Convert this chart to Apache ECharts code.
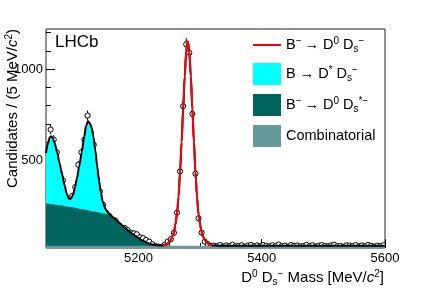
<!DOCTYPE html>
<html><head><meta charset="utf-8">
<script src="https://cdn.jsdelivr.net/npm/echarts@6/dist/echarts.min.js"></script>
<style>html,body{margin:0;padding:0;background:#fff}#c{width:427px;height:290px}</style>
</head><body><div id="c"></div>
<script>
// ---- data ----
const binLow = 5050, binWidth = 5;
const counts = [541,669,614,544,431,390,293,288,305,354,
  476,544,614,746,654,586,398,330,257,214,
  196,174,170,141,101,130,118,104,100,95,
  79,74,64,55,41,31,28,27,37,55,
  68,103,214,440,797,1136,1090,755,427,183,
  104,55,41,31,
  33,30,36,28,34,31,38,29,32,35,
  27,33,37,30,34,29,36,32,28,35,
  31,39,30,33,27,36,32,34,29,31,
  37,30,35,28,33,36,31,29,34,38,
  30,32,27,35,33,31,36,29,34,30,
  37,32,28,33,31,35];
const totalFit = [[5050,540],[5053,592],[5056,626],[5058.5,633],[5061,622],[5064,595],[5068,545],[5072,485],[5076,425],[5080,365],[5084,315],[5087,292],[5089,288],[5091,292],[5094,312],[5097,350],[5100,400],[5104,470],[5108,545],[5112,630],[5115,690],[5118,714],[5121,705],[5124,680],[5127,630],[5130,555],[5133,470],[5136,390],[5139,325],[5142,275],[5145,245],[5148,225],[5152,207],[5156,196],[5160,185],[5165,170],[5170,155],[5175,140],[5180,125],[5185,110],[5190,98],[5195,86],[5200,75],[5205,64],[5210,55],[5215,47],[5220,41],[5225,37],[5230,35],[5235,34],[5240,34],[5245,40],[5250,52],[5253,68],[5256,90],[5258,112],[5260,150],[5262.5,205],[5265,300],[5267.5,435],[5270,600],[5272.5,780],[5275,960],[5277.5,1100],[5280,1152],[5282.5,1100],[5285,960],[5287.5,780],[5290,600],[5292.5,435],[5295,300],[5297.5,205],[5300,150],[5302,112],[5304,90],[5307,68],[5310,52],[5315,40],[5320,34],[5330,33],[5400,32],[5600,32]];
const signalFit = [[5240,34],[5245,40],[5250,52],[5253,68],[5256,90],[5258,112],[5260,150],[5262.5,205],[5265,300],[5267.5,435],[5270,600],[5272.5,780],[5275,960],[5277.5,1100],[5280,1152],[5282.5,1100],[5285,960],[5287.5,780],[5290,600],[5292.5,435],[5295,300],[5297.5,205],[5300,150],[5302,112],[5304,90],[5307,68],[5310,52],[5315,40],[5320,34]];
const dStarTop = [[5050,540],[5053,592],[5056,626],[5058.5,633],[5061,622],[5064,595],[5068,545],[5072,485],[5076,425],[5080,365],[5084,315],[5087,292],[5089,288],[5091,292],[5094,312],[5097,350],[5100,400],[5104,470],[5108,545],[5112,630],[5115,690],[5118,714],[5121,705],[5124,680],[5127,630],[5130,555],[5133,470],[5136,390],[5139,325],[5142,275],[5145,245],[5148,225],[5152,207],[5156,196]];
const dsStarTop = [[5050,265],[5070,256],[5090,245],[5110,232],[5130,218],[5145,207],[5152,201],[5156,196],[5160,185],[5165,170],[5170,155],[5175,140],[5180,125],[5185,110],[5190,98],[5195,86],[5200,75],[5205,64],[5210,55],[5215,47],[5220,41],[5225,37],[5230,35],[5235,34],[5240,33],[5250,32]];
const combFit = [[5050,32],[5600,32]];
const xMajorTicks = [5200,5400,5600];
const xMinorTicks = [5100,5150,5250,5300,5350,5450,5500,5550];
const yMajorTicks = [500,1000];
const yMinorTicks = [100,200,300,400,600,700,800,900,1100,1200];

// ---- chart ----
const FF = 'Liberation Sans, Arial, Helvetica, sans-serif';
const points = counts.map((v,i)=>[binLow + binWidth*(i+0.5), v]);
const legendNames = {
  sig: '{n|B}{sup|−}{n|\u2009→ D}{sup|0}{n| D}{sub|s}{sup|−}',
  dstar: '{n|B → D}{sup|*}{n| D}{sub|s}{sup|−}',
  dsstar: '{n|B}{sup|−}{n|\u2009→ D}{sup|0}{n| D}{sub|s}{sup|*−}',
  comb: '{n|Combinatorial}'
};
function rich(fs){
  return {
    n:{fontSize:fs, fontFamily:FF, color:'#000', lineHeight:18},
    i:{fontSize:fs, fontFamily:FF, color:'#000', fontStyle:'italic', lineHeight:18},
    sup:{fontSize:Math.round(fs*0.68), fontFamily:FF, color:'#000', lineHeight:10, verticalAlign:'top'},
    sub:{fontSize:Math.round(fs*0.68), fontFamily:FF, color:'#000', lineHeight:10, verticalAlign:'bottom'}
  };
}
const xMin=5050, xMax=5600, yMin=20, yMax=1220;
function xAx(ticks, len, labels){
  return {type:'value', min:xMin, max:xMax, position:'bottom', gridIndex:0,
    axisLine:{show:false}, splitLine:{show:false},
    axisTick:{show:true, inside:true, length:len, customValues:ticks, lineStyle:{color:'#000', width:1}},
    axisLabel: labels ? {show:true, customValues:ticks, formatter:v=>String(v), fontSize:13, fontFamily:FF, color:'#000', margin:4} : {show:false}};
}
function yAx(ticks, len, labels){
  return {type:'value', min:yMin, max:yMax, position:'left', gridIndex:0,
    axisLine:{show:false}, splitLine:{show:false},
    axisTick:{show:true, inside:true, length:len, customValues:ticks, lineStyle:{color:'#000', width:1}},
    axisLabel: labels ? {show:true, customValues:ticks, formatter:v=>String(v), fontSize:13, fontFamily:FF, color:'#000', margin:3} : {show:false}};
}
const chart = echarts.init(document.getElementById('c'), null, {renderer:'canvas'});
chart.setOption({
  animation:false,
  backgroundColor:'#fff',
  grid:{left:46, right:42, top:29, bottom:42, show:true, borderColor:'#222', borderWidth:1, backgroundColor:'transparent', outerBoundsMode:'none'},
  xAxis:[xAx(xMajorTicks,9,true), xAx(xMinorTicks,5,false)],
  yAxis:[yAx(yMajorTicks,9,true), yAx(yMinorTicks,5,false)],
  legend:{
    left:253, top:36, padding:0, orient:'vertical', itemWidth:28, itemHeight:22, itemGap:9,
    symbolKeepAspect:true,
    data:[{name:'sig', icon:'path://M0,0L28,0L28,2L0,2Z'},{name:'dstar', icon:'rect'},{name:'dsstar', icon:'rect'},{name:'comb', icon:'rect'}],
    formatter: n => legendNames[n],
    textStyle:{fontSize:14.5, fontFamily:FF, color:'#000', rich:rich(14.5)},
    selectedMode:false
  },
  graphic:[
    {type:'text', left:55, top:34, style:{text:'LHCb', font:'17px Liberation Sans, Arial, sans-serif', fill:'#000'}},
    {type:'text', x:13, y:29, rotation:Math.PI/2,
      style:{text:'{n|Candidates / (5 MeV/}{i|c}{sup|2}{n|)}', rich:rich(15), align:'right', verticalAlign:'middle'}},
    {type:'text', x:384, y:278,
      style:{text:'{n|D}{sup|0}{n| D}{sub|s}{sup|−}{n| Mass [MeV/}{i|c}{sup|2}{n|]}', rich:rich(15), align:'right', verticalAlign:'middle'}}
  ],
  series:[
    {name:'dstar', type:'line', data:dStarTop, smooth:0.3, smoothMonotone:'x', symbol:'none', clip:true,
      lineStyle:{width:0}, itemStyle:{color:'#00ffff'}, areaStyle:{color:'#00ffff', origin:'start', opacity:1}},
    {name:'dsstar', type:'line', data:dsStarTop, smooth:0.3, smoothMonotone:'x', symbol:'none', clip:true,
      lineStyle:{width:0}, itemStyle:{color:'#00655f'}, areaStyle:{color:'#00655f', origin:'start', opacity:1}},
    {name:'comb', type:'line', data:combFit, symbol:'none', clip:true,
      lineStyle:{width:0}, itemStyle:{color:'#669999'}, areaStyle:{color:'#669999', origin:'start', opacity:1}},
    {name:'total', type:'line', data:totalFit, smooth:0.3, smoothMonotone:'x', symbol:'none', clip:true,
      lineStyle:{width:2, color:'#000'}, itemStyle:{color:'#000'}},
    {name:'sig', type:'line', data:signalFit, smooth:0.3, smoothMonotone:'x', symbol:'none', clip:true,
      lineStyle:{width:2, color:'#ff0000'}, itemStyle:{color:'#ff0000'}},
    {name:'data', type:'custom', data:points, clip:true, encode:{x:0,y:1},
      renderItem:function(params, api){
        const x=api.value(0), y=api.value(1), e=Math.sqrt(y);
        const c=api.coord([x,y]), hi=api.coord([x,y+e]), lo=api.coord([x,y-e]);
        const r=2.6, ch=[];
        if (c[1]-hi[1] > r) ch.push({type:'line', shape:{x1:c[0],y1:hi[1],x2:c[0],y2:c[1]-r}, style:{stroke:'#000', lineWidth:1}});
        if (lo[1]-c[1] > r) ch.push({type:'line', shape:{x1:c[0],y1:c[1]+r,x2:c[0],y2:lo[1]}, style:{stroke:'#000', lineWidth:1}});
        ch.push({type:'circle', shape:{cx:c[0],cy:c[1],r:r}, style:{fill:'#fff', stroke:'#000', lineWidth:1}});
        return {type:'group', children:ch};
      }}
  ]
});
</script></body></html>
